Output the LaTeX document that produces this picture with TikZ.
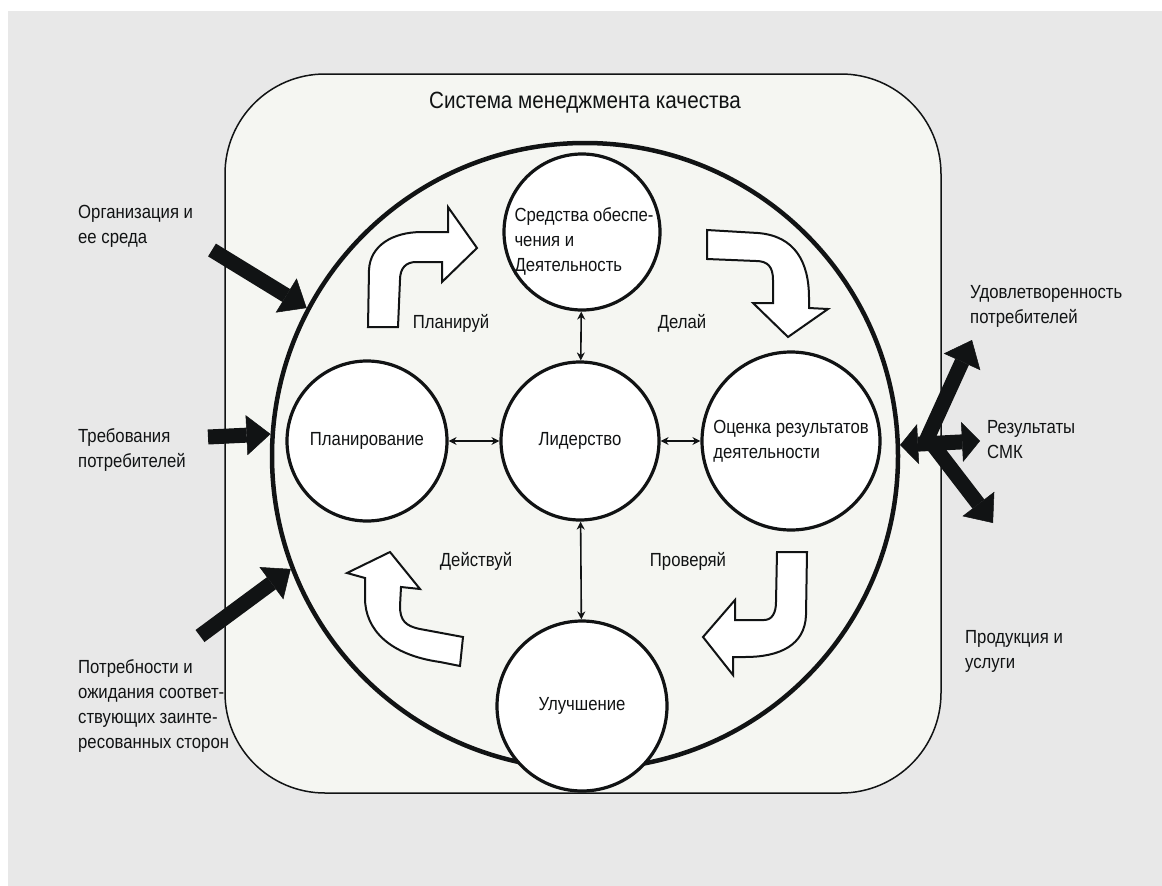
\documentclass[tikz,border=0pt]{standalone}
\usepackage{fontspec}
\setmainfont{Liberation Sans}[FakeStretch=0.88]
\usetikzlibrary{arrows.meta}
\definecolor{bggray}{HTML}{E8E8E8}
\definecolor{panel}{HTML}{F5F6F2}
\definecolor{ink}{HTML}{111314}
\begin{document}
\begin{tikzpicture}[x=1pt,y=-1pt,
  txt/.style={font=\fontsize{19}{25}\selectfont, text=ink, inner sep=0pt},
  lbl/.style={txt, align=left, anchor=west},
  stage/.style={circle, draw=ink, line width=3.2pt, fill=white, inner sep=0pt, txt, align=left},
  bigarrow/.style={draw=ink, line width=15pt, -{Triangle[width=40pt,length=24pt,line width=0.5pt]}},
  bigdouble/.style={draw=ink, line width=15pt, {Triangle[width=40pt,length=18pt,line width=0.5pt]}-{Triangle[width=40pt,length=18pt,line width=0.5pt]}},
  thinarrow/.style={draw=ink, line width=1.6pt, {Stealth[length=8pt,width=8pt]}-{Stealth[length=8pt,width=8pt]}},
  cyclearrow/.style={draw=ink, line width=2pt, fill=white, line join=miter}
]
\useasboundingbox (0,0) rectangle (1162,886);
\fill[bggray] (8,11) rectangle (1162,886);
\draw[draw=ink, fill=panel, line width=1.5pt, rounded corners=100pt] (225,74) rectangle (941,793);
\node[circle, draw=ink, line width=4.5pt, fill=panel, minimum size=626pt, inner sep=0pt] (sys) at (585,456) {};
\node[txt, font=\fontsize{23.5}{25}\selectfont] (title) at (585,103) {Система менеджмента качества};

% inputs
\coordinate (orgtail) at (212,250);
\coordinate (trebtail) at (208,437);
\coordinate (potrtail) at (200,636);
\draw[bigarrow] (orgtail) -- (sys.152.6);
\draw[bigarrow] (trebtail) -- (sys.176.5);
\draw[bigarrow] (potrtail) -- (sys.201.6);

% outputs
\coordinate (resend) at (980,441);
\coordinate (jup) at (926,441);
\coordinate (jdn) at (930,441);
\coordinate (udovtip) at (972,340);
\coordinate (prodtip) at (993,523);
\draw[bigdouble] (sys.2.5) -- (resend);
\draw[bigarrow] (jup) -- (udovtip);
\draw[bigarrow] (jdn) -- (prodtip);

% cycle arrows
\draw[cyclearrow] (368,327) -- (369,270) .. controls (370,246) and (392,232) .. (422,232) -- (448,232) -- (448,207) -- (477,248) -- (442,282) -- (442,262) -- (416,262) .. controls (406,262) and (400,268) .. (400,280) -- (398,327) -- cycle;
\draw[cyclearrow] (707,230) -- (758,233) .. controls (795,236) and (809,262) .. (809,298) -- (809,308) -- (828,309) -- (788,337) -- (753,303) -- (773,303) -- (773,280) .. controls (773,267) and (768,261) .. (756,261) -- (707,259) -- cycle;
\draw[cyclearrow] (777,552) -- (807,552) -- (806,615) .. controls (805,645) and (780,657) .. (745,657) -- (733,657) -- (733,675) -- (703,637) -- (735,600) -- (735,620) -- (764,620) .. controls (772,620) and (776,613) .. (776,602) -- cycle;
\draw[cyclearrow] (463,637) -- (460,666) -- (440,662) .. controls (390,655) and (365,630) .. (365,598) -- (365,578) -- (347,573) -- (390,552) -- (420,589) -- (401,587) -- (400,606) .. controls (400,620) and (405,626) .. (420,629) -- cycle;

% stages
\node[stage, minimum size=156pt] (sred) at (582,232) {};
\node[txt, align=left] (sredtxt) at (584,241) {Средства обеспе-\\чения и\\Деятельность};
\node[stage, minimum size=158pt] (lid) at (580,441) {Лидерство};
\node[stage, minimum size=160pt] (plan) at (367,441) {Планирование};
\node[stage, minimum size=178pt] (otsen) at (791,441) {Оценка результатов\\деятельности};
\node[stage, minimum size=170pt] (ulu) at (582,706) {Улучшение};

\draw[thinarrow] (sred) -- (lid);
\draw[thinarrow] (plan) -- (lid);
\draw[thinarrow] (lid) -- (otsen);
\draw[thinarrow] (lid) -- (ulu);

% cycle labels
\node[txt] (lplan) at (451,323) {Планируй};
\node[txt] (ldo) at (682,323) {Делай};
\node[txt] (lact) at (476,561) {Действуй};
\node[txt] (lcheck) at (688,561) {Проверяй};

% side labels
\node[lbl] (org) at (78,226) {Организация и\\ее среда};
\node[lbl] (treb) at (78,450) {Требования\\потребителей};
\node[lbl] (potr) at (78,706) {Потребности и\\ожидания соответ-\\ствующих заинте-\\ресованных сторон};
\node[lbl] (udov) at (970,306) {Удовлетворенность\\потребителей};
\node[lbl] (res) at (987,440) {Результаты\\СМК};
\node[lbl] (prod) at (965,651) {Продукция и\\услуги};
\end{tikzpicture}
\end{document}
